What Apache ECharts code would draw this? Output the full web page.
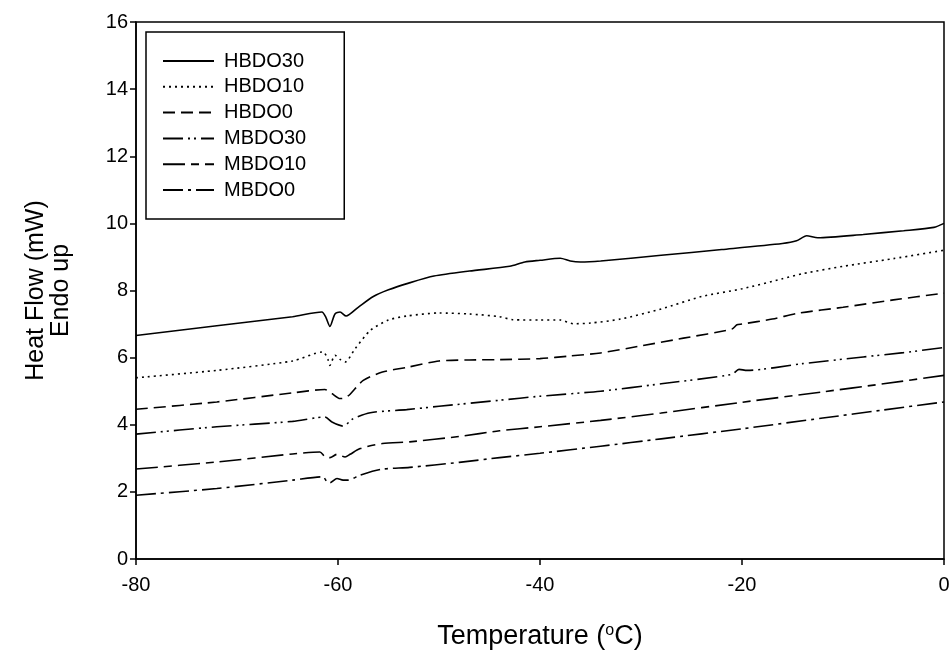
<!DOCTYPE html>
<html>
<head>
<meta charset="utf-8">
<script src="https://cdn.jsdelivr.net/npm/echarts@6/dist/echarts.min.js"></script>
<style>
  html, body { margin: 0; padding: 0; background: #fff; }
  #chart { width: 952px; height: 652px; }
</style>
</head>
<body>
<div id="chart"></div>
<script>
// readings taken off the DSC curves
const seriesNames = ['HBDO30', 'HBDO10', 'HBDO0', 'MBDO30', 'MBDO10', 'MBDO0']
const xTicks = [-80, -60, -40, -20, 0]
const yTicks = [0, 2, 4, 6, 8, 10, 12, 14, 16]

const tempHBDO30 = [-80, -72, -64.5, -61.6, -61.2, -60.8, -60.3, -59.8, -59.2, -58, -56.5, -55, -53, -50.5, -47, -43, -41.5, -40, -38, -37, -36, -34, -28, -22, -16, -14.6, -13.6, -12.5, -8, -4, -1, 0]
const flowHBDO30 = [6.66, 6.95, 7.22, 7.36, 7.2, 6.93, 7.3, 7.36, 7.24, 7.5, 7.82, 8.02, 8.22, 8.43, 8.58, 8.72, 8.85, 8.9, 8.96, 8.88, 8.85, 8.88, 9.05, 9.22, 9.4, 9.48, 9.63, 9.57, 9.67, 9.78, 9.88, 10.0]

const tempHBDO10 = [-80, -72, -64.5, -61.5, -61, -60.8, -60.3, -59.8, -59.3, -58.3, -56.8, -55, -53.2, -50, -47, -44, -42.7, -40, -38, -36.7, -35, -32, -28, -24, -20, -16, -14, -10, -5, 0]
const flowHBDO10 = [5.4, 5.62, 5.9, 6.17, 5.95, 5.77, 6.07, 5.95, 5.87, 6.27, 6.81, 7.12, 7.24, 7.33, 7.3, 7.22, 7.13, 7.12, 7.12, 7.01, 7.03, 7.15, 7.45, 7.82, 8.05, 8.35, 8.5, 8.72, 8.95, 9.2]

const tempHBDO0 = [-80, -72, -64.5, -61.3, -60.6, -59.8, -59.3, -58.8, -57.5, -55.6, -53, -50, -47, -44, -40, -37, -34, -30, -25.8, -21, -20.5, -20, -17, -14.3, -10, -5, 0]
const flowHBDO0 = [4.46, 4.68, 4.95, 5.05, 4.93, 4.78, 4.8, 4.91, 5.32, 5.57, 5.72, 5.9, 5.93, 5.94, 5.97, 6.05, 6.14, 6.35, 6.58, 6.85, 6.98, 7.0, 7.15, 7.33, 7.5, 7.72, 7.92]

const tempMBDO30 = [-80, -72, -64.5, -61.3, -60.6, -59.5, -58.5, -56.8, -53.2, -50, -44, -40, -34, -28, -21, -20.3, -19.5, -14, -8, -4, 0]
const flowMBDO30 = [3.72, 3.94, 4.1, 4.23, 4.08, 3.96, 4.18, 4.36, 4.45, 4.55, 4.73, 4.85, 5.0, 5.22, 5.5, 5.65, 5.62, 5.82, 6.02, 6.15, 6.3]

const tempMBDO10 = [-80, -72, -64.5, -61.8, -61.3, -60.8, -60.1, -59.3, -58.8, -57.8, -55.6, -52.9, -48, -44, -40, -34, -28, -20, -12, -6, 0]
const flowMBDO10 = [2.68, 2.89, 3.13, 3.19, 3.05, 3.02, 3.12, 3.04, 3.12, 3.29, 3.44, 3.49, 3.65, 3.82, 3.94, 4.13, 4.35, 4.67, 4.98, 5.22, 5.47]

const tempMBDO0 = [-80, -72, -64.5, -61.5, -61.1, -60.8, -60.1, -59.5, -59, -57.8, -55.8, -52.9, -48, -44, -40, -34, -28, -20, -12, -6, 0]
const flowMBDO0 = [1.9, 2.1, 2.35, 2.45, 2.3, 2.27, 2.4, 2.35, 2.35, 2.5, 2.67, 2.73, 2.88, 3.02, 3.15, 3.36, 3.58, 3.88, 4.2, 4.44, 4.68]

const temps = [tempHBDO30, tempHBDO10, tempHBDO0, tempMBDO30, tempMBDO10, tempMBDO0]
const flows = [flowHBDO30, flowHBDO10, flowHBDO0, flowMBDO30, flowMBDO10, flowMBDO0]
const dashes = ['solid', [2, 4], [12, 6], [20, 5, 2, 4, 2, 5], [22, 6, 8, 6], [20, 5, 3, 5]]

const font = 'Liberation Sans, Arial, sans-serif'

let myChart = echarts.init(document.getElementById('chart'))

let series = seriesNames.map(function (name, i) {
  return {
    name: name,
    type: 'line',
    data: temps[i].map(function (t, j) { return [t, flows[i][j]] }),
    symbol: 'none',
    smooth: 0.25,
    lineStyle: {
      color: '#000',
      width: 1.6,
      type: dashes[i]
    },
    itemStyle: { color: '#000' }
  }
})

myChart.setOption({
  animation: false,
  backgroundColor: '#fff',
  grid: {
    show: true,
    left: 136,
    right: 8,
    top: 22,
    bottom: 93,
    outerBoundsMode: 'none',
    containLabel: false,
    borderColor: '#000',
    borderWidth: 1.5
  },
  legend: {
    orient: 'vertical',
    left: 146,
    top: 32,
    data: seriesNames,
    itemWidth: 51,
    itemHeight: 14,
    itemGap: 5.8,
    padding: [19, 38, 19, 16],
    backgroundColor: '#fff',
    borderColor: '#000',
    borderWidth: 1.5,
    borderRadius: 0,
    itemStyle: { opacity: 0 },
    textStyle: {
      color: '#000',
      fontFamily: font,
      fontSize: 20,
      padding: [0, 0, 0, 5]
    }
  },
  xAxis: {
    type: 'value',
    min: -80,
    max: 0,
    interval: 20,
    name: 'Temperature ({sup|o}C)',
    nameLocation: 'middle',
    nameGap: 64,
    nameTextStyle: {
      color: '#000',
      fontFamily: font,
      fontSize: 27,
      rich: {
        sup: { fontSize: 16, verticalAlign: 'top', padding: [0, 0, 12, 0], fontFamily: font, color: '#000' }
      }
    },
    splitLine: { show: false },
    axisLine: { onZero: false, lineStyle: { color: '#000', width: 1.5 } },
    axisTick: { length: 6, lineStyle: { color: '#000', width: 1.5 } },
    axisLabel: {
      color: '#000',
      fontFamily: font,
      fontSize: 20,
      margin: 16,
      formatter: function (v) { return xTicks.indexOf(v) >= 0 ? String(v) : '' }
    }
  },
  yAxis: {
    type: 'value',
    min: 0,
    max: 16,
    interval: 2,
    name: 'Heat Flow (mW)\nEndo up',
    nameLocation: 'middle',
    nameGap: 62,
    nameRotate: 90,
    nameTextStyle: {
      color: '#000',
      fontFamily: font,
      fontSize: 25,
      lineHeight: 25
    },
    splitLine: { show: false },
    axisLine: { onZero: false, lineStyle: { color: '#000', width: 1.5 } },
    axisTick: { length: 6, lineStyle: { color: '#000', width: 1.5 } },
    axisLabel: {
      color: '#000',
      fontFamily: font,
      fontSize: 20,
      margin: 8,
      formatter: function (v) { return yTicks.indexOf(v) >= 0 ? String(v) : '' }
    }
  },
  series: series
})
</script>
</body>
</html>
